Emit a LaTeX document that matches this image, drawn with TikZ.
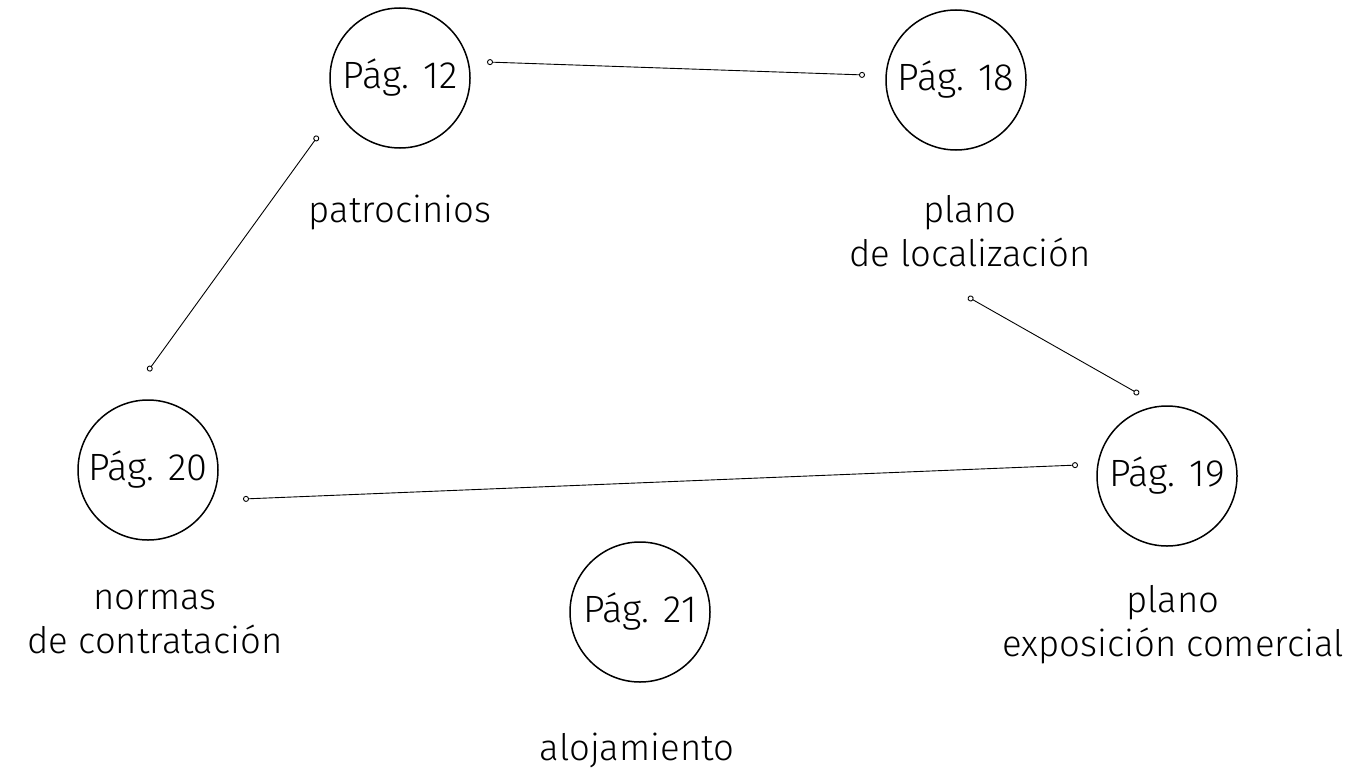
\documentclass[tikz,border=0pt]{standalone}
\usepackage{fontspec}
\setmainfont{Fira Sans}[UprightFont=* Light]
\usetikzlibrary{arrows.meta}

\begin{document}
\begin{tikzpicture}[x=1pt, y=-1pt, font=\fontsize{38}{46}\selectfont,
    page/.style={circle, draw, line width=1.5pt, minimum size=140pt, inner sep=0pt},
    caption/.style={align=center, font=\fontsize{36.5}{44}\selectfont},
    link/.style={line width=0.9pt, {Circle[open,length=6pt,width=6pt]}-{Circle[open,length=6pt,width=6pt]}}]
\useasboundingbox (0,0) rectangle (1364,776);
\node[page] (p12) at (400,78) {Pág. 12};
\node[page] (p18) at (956,80) {Pág. 18};
\node[page] (p20) at (148,470) {Pág. 20};
\node[page] (p19) at (1167,476) {Pág. 19};
\node[page] (p21) at (640,612) {Pág. 21};
\node[caption] (c12) at (400,212) {patrocinios};
\node[caption] (c18) at (970,231) {plano\\de localización};
\node[caption] (c20) at (155,622) {normas\\de contratación};
\node[caption] (c19) at (1173,625) {plano\\exposición comercial};
\node[caption] (c21) at (637,750) {alojamiento};
\coordinate (a1) at (487,62);
\coordinate (a2) at (865,75);
\coordinate (b1) at (318,136);
\coordinate (b2) at (148,371);
\coordinate (d1) at (968,297);
\coordinate (d2) at (1139,394);
\coordinate (e1) at (243,499);
\coordinate (e2) at (1078,465);
\draw[link] (a1) -- (a2);
\draw[link] (b1) -- (b2);
\draw[link] (d1) -- (d2);
\draw[link] (e1) -- (e2);
\end{tikzpicture}
\end{document}
